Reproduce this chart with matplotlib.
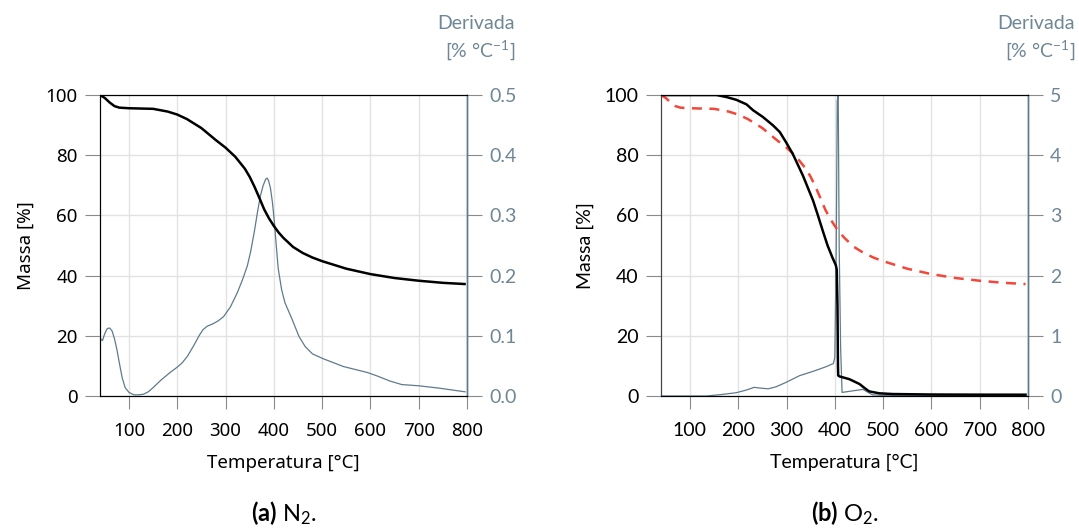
import numpy as np
import matplotlib
matplotlib.use('Agg')
from matplotlib import pyplot as plt

plt.rcParams['mathtext.fontset'] = 'custom'
plt.rcParams['mathtext.rm'] = 'Lato'
plt.rcParams['mathtext.it'] = 'Lato:italic'
plt.rcParams['mathtext.bf'] = 'Lato:bold'

# N2 run: mass and derivative
temp_n2 = [40, 50, 60, 70, 80, 100, 150, 180, 200, 220, 250, 280, 300, 320, 340, 350,
           360, 370, 380, 390, 400, 410, 420, 440, 460, 480, 500, 550, 600, 650, 700,
           750, 795]
mass_n2 = [100, 99, 97.5, 96.3, 95.8, 95.6, 95.4, 94.5, 93.5, 92, 89, 85, 82.5, 79.5,
           75.5, 72.8, 69.5, 65.8, 62, 59, 56.5, 54.3, 52.5, 49.5, 47.5, 46, 44.8, 42.3,
           40.5, 39.2, 38.3, 37.6, 37.2]

dtemp_n2 = [40, 45, 50, 55, 60, 65, 70, 75, 80, 86, 92, 100, 110, 120, 130, 140, 150,
            167, 185, 200, 210, 221, 235, 245, 253, 262, 274, 285, 296, 310, 324, 335,
            345, 352, 360, 366, 372, 378, 383, 386, 389, 393, 397, 401, 405, 409, 416,
            423, 430, 438, 452, 465, 480, 502, 544, 594, 615, 640, 665, 700, 743, 796]
deriv_n2 = [0.096, 0.092, 0.104, 0.112, 0.113, 0.108, 0.095, 0.077, 0.055, 0.03, 0.014,
            0.006, 0.002, 0.002, 0.003, 0.007, 0.014, 0.027, 0.039, 0.048, 0.055, 0.066,
            0.085, 0.1, 0.11, 0.116, 0.12, 0.125, 0.132, 0.148, 0.171, 0.193, 0.216,
            0.24, 0.275, 0.305, 0.332, 0.35, 0.36, 0.362, 0.358, 0.345, 0.322, 0.29,
            0.25, 0.212, 0.177, 0.155, 0.142, 0.127, 0.099, 0.082, 0.07, 0.062, 0.049,
            0.039, 0.033, 0.025, 0.019, 0.017, 0.013, 0.007]

# O2 run: mass and derivative
temp_o2 = [40, 100, 155, 176, 196, 217, 231, 251, 272, 286, 299, 313, 334, 355, 365,
           375, 385, 395, 402, 404, 405.5, 406.5, 407, 410, 430, 451, 462, 471, 492,
           520, 600, 700, 795]
mass_o2 = [100, 100, 100, 99.3, 98.4, 96.9, 94.9, 92.7, 89.9, 87.7, 84.3, 80.4, 73.2,
           64.9, 60, 54.9, 50, 46, 43.5, 42, 30, 10, 6.8, 6.5, 5.6, 4.0, 2.6, 1.55,
           0.9, 0.66, 0.5, 0.45, 0.44]

dtemp_o2 = [40, 134, 162, 196, 217, 233, 244, 262, 279, 299, 327, 355, 382, 397, 400,
            403, 405, 407, 409, 412, 415, 458, 478, 500, 600, 700, 795]
deriv_o2 = [0.0, 0.0, 0.022, 0.055, 0.1, 0.144, 0.133, 0.12, 0.155, 0.227, 0.338, 0.41,
            0.487, 0.54, 0.64, 2.5, 4.9, 5.0, 2.5, 0.8, 0.06, 0.11, 0.02, 0.01, 0.01,
            0.01, 0.01]

xticks = [100, 200, 300, 400, 500, 600, 700, 800]
mass_ticks = [0, 20, 40, 60, 80, 100]

deriv_col = '#5f7b8b'
label_col = '#6f8794'
grid_col = '#e2e2e2'
red = '#f2473a'

fig = plt.figure(figsize=(10.79, 5.31), dpi=100)


def panel(rect, font, fs, dticks, dlabels, left_spine):
    ax2 = fig.add_axes(rect)
    ax1 = ax2.twinx()
    # mass axis on the left, drawn on top
    ax1.yaxis.tick_left()
    ax1.yaxis.set_label_position('left')
    ax2.yaxis.tick_right()
    ax1.set_zorder(ax2.get_zorder() + 1)
    ax1.patch.set_visible(False)

    ax2.set_xlim(40, 800)
    ax1.set_ylim(0, 100)
    ax2.set_ylim(0, dticks[-1])
    ax2.set_xticks(xticks)
    ax2.set_xticklabels([str(t) for t in xticks], family=font, fontsize=fs)
    ax1.set_yticks(mass_ticks)
    ax1.set_yticklabels([str(t) for t in mass_ticks], family=font, fontsize=fs)
    ax2.set_yticks(dticks)
    ax2.set_yticklabels(dlabels, family='Lato', fontsize=14, color=label_col)

    ax2.grid(True, color=grid_col, lw=1)
    ax2.set_axisbelow(True)

    ax2.tick_params(axis='x', length=9, color='#8a8a8a', pad=10)
    ax1.tick_params(axis='y', length=11, color='#8a8a8a', pad=5)
    ax2.tick_params(axis='y', length=11, color='#8a8a8a', pad=5)

    for a in (ax1, ax2):
        a.spines['top'].set_color('black')
        a.spines['bottom'].set_color('black')
        a.spines['left'].set_color(left_spine)
        a.spines['right'].set_color(deriv_col)
        a.spines['right'].set_linewidth(1.0)
    return ax1, ax2


# (a) N2
ax1, ax2 = panel([0.0927, 0.2542, 0.3401, 0.5669], 'Noto Sans', 13.5,
                 [0, 0.1, 0.2, 0.3, 0.4, 0.5], ['0.0', '0.1', '0.2', '0.3', '0.4', '0.5'],
                 'black')
ax2.plot(dtemp_n2, deriv_n2, color=deriv_col, lw=0.9)
ax1.plot(temp_n2, mass_n2, color='black', lw=1.8)
ax2.set_xlabel('Temperatura [°C]', family='Noto Sans', fontsize=13.5, labelpad=10)
ax1.set_ylabel('Massa [%]', family='Noto Sans', fontsize=13.5, labelpad=8)
fig.text(0.4773, 0.928, 'Derivada\n[% °C$^{-1}$]', ha='right', va='center',
         family='Lato', fontsize=14, color=label_col, linespacing=1.35)
fig.text(0.2627, 0.034, r'$\bf{(a)}$ N$_2$.', ha='center', va='center',
         family='Lato', fontsize=17)

# (b) O2
bx1, bx2 = panel([0.6126, 0.2542, 0.3401, 0.5669], 'Lato', 14,
                 [0, 1, 2, 3, 4, 5], ['0', '1', '2', '3', '4', '5'], '#444444')
bx2.plot(dtemp_o2, deriv_o2, color=deriv_col, lw=0.9)
bx1.plot(temp_n2, mass_n2, color=red, lw=1.8, ls=(0, (4, 3)))
bx1.plot(temp_o2, mass_o2, color='black', lw=1.8)
bx2.set_xlabel('Temperatura [°C]', family='Lato', fontsize=14, labelpad=10)
bx1.set_ylabel('Massa [%]', family='Lato', fontsize=14, labelpad=8)
fig.text(0.9963, 0.928, 'Derivada\n[% °C$^{-1}$]', ha='right', va='center',
         family='Lato', fontsize=14, color=label_col, linespacing=1.35)
fig.text(0.7827, 0.034, r'$\bf{(b)}$ O$_2$.', ha='center', va='center',
         family='Lato', fontsize=17)

fig.savefig('out.png', dpi=100)
